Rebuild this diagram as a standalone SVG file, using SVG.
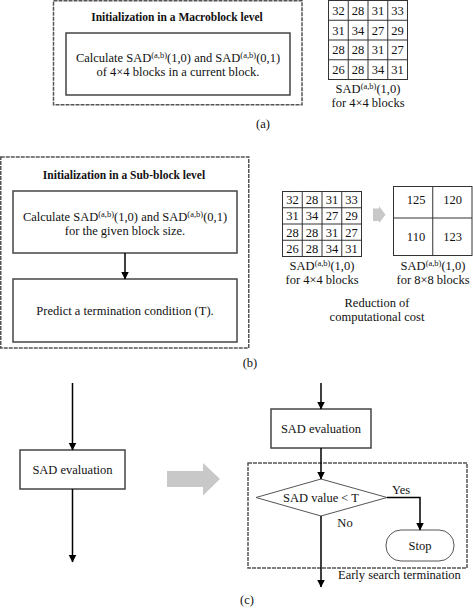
<svg xmlns="http://www.w3.org/2000/svg" width="473" height="612" viewBox="0 0 473 612" font-family="'Liberation Serif', 'Times New Roman', 'DejaVu Serif', serif">
<defs>
<marker id="ah" markerUnits="userSpaceOnUse" markerWidth="8" markerHeight="9" refX="7.5" refY="4" orient="auto">
<path d="M0,0 L8,4 L0,8 Z" fill="#000"/>
</marker>
<style>
text{font-family:'Liberation Serif','Times New Roman','DejaVu Serif',serif;font-size:12.5px;fill:#111;}
.t{text-anchor:middle;}
.b{font-weight:bold;font-size:11.5px;}
.sup{font-size:8.5px;}
.dash{fill:none;stroke:#555;stroke-width:1.5;stroke-dasharray:4 1;}
.box{fill:#fff;stroke:#444;stroke-width:1.5;}
.thin{fill:#fff;stroke:#555;stroke-width:1;}
.grid{fill:none;stroke:#333;stroke-width:1;}
.ln{fill:none;stroke:#000;stroke-width:1.5;}
.grey{fill:#c8c8c8;stroke:none;}
</style>
</defs>

<!-- Panel (a) -->
<g id="a-frame"><rect class="dash" x="53.5" y="0.75" width="248.5" height="104"/></g>
<g id="a-title"><text class="t b" x="177" y="21">Initialization in a Macroblock level</text></g>
<g id="a-calc">
<rect class="box" x="66" y="33" width="224" height="62"/>
<text class="t" x="178" y="62">Calculate SAD<tspan class="sup" dy="-4.5">(a,b)</tspan><tspan dy="4.5">(1,0) and SAD</tspan><tspan class="sup" dy="-4.5">(a,b)</tspan><tspan dy="4.5">(0,1)</tspan></text>
<text class="t" x="178" y="76">of 4×4 blocks in a current block.</text>
</g>
<g id="a-grid">
<rect class="grid" x="328.5" y="0.5" width="79" height="79"/>
<path class="grid" d="M348.25,0.5V79.5M368,0.5V79.5M387.75,0.5V79.5M328.5,20.25H407.5M328.5,40H407.5M328.5,59.75H407.5"/>
<text class="t" x="338.4" y="15">32</text><text class="t" x="358.1" y="15">28</text><text class="t" x="377.9" y="15">31</text><text class="t" x="397.6" y="15">33</text>
<text class="t" x="338.4" y="34.5">31</text><text class="t" x="358.1" y="34.5">34</text><text class="t" x="377.9" y="34.5">27</text><text class="t" x="397.6" y="34.5">29</text>
<text class="t" x="338.4" y="54.3">28</text><text class="t" x="358.1" y="54.3">28</text><text class="t" x="377.9" y="54.3">31</text><text class="t" x="397.6" y="54.3">27</text>
<text class="t" x="338.4" y="74">26</text><text class="t" x="358.1" y="74">28</text><text class="t" x="377.9" y="74">34</text><text class="t" x="397.6" y="74">31</text>
<text class="t" x="368" y="93">SAD<tspan class="sup" dy="-4.5">(a,b)</tspan><tspan dy="4.5">(1,0)</tspan></text>
<text class="t" x="368" y="107">for 4×4 blocks</text>
</g>
<text class="t" x="263" y="128">(a)</text>

<!-- Panel (b) -->
<g id="b-frame"><rect class="dash" x="0.75" y="157" width="248" height="191"/></g>
<g id="b-title"><text class="t b" x="124" y="179">Initialization in a Sub-block level</text></g>
<g id="b-calc">
<rect class="box" x="13" y="191" width="224" height="62"/>
<text class="t" x="125" y="221">Calculate SAD<tspan class="sup" dy="-4.5">(a,b)</tspan><tspan dy="4.5">(1,0) and SAD</tspan><tspan class="sup" dy="-4.5">(a,b)</tspan><tspan dy="4.5">(0,1)</tspan></text>
<text class="t" x="125" y="235">for the given block size.</text>
</g>
<g id="b-predict">
<rect class="box" x="13" y="279" width="224" height="63"/>
<text class="t" x="125" y="315">Predict a termination condition (T).</text>
</g>
<g id="b-grid4">
<rect class="grid" x="282.5" y="191.5" width="79" height="65"/>
<path class="grid" d="M302.25,191.5V256.5M322,191.5V256.5M341.75,191.5V256.5M282.5,207.75H361.5M282.5,224H361.5M282.5,240.25H361.5"/>
<text class="t" x="292.4" y="204">32</text><text class="t" x="312.1" y="204">28</text><text class="t" x="331.9" y="204">31</text><text class="t" x="351.6" y="204">33</text>
<text class="t" x="292.4" y="220.3">31</text><text class="t" x="312.1" y="220.3">34</text><text class="t" x="331.9" y="220.3">27</text><text class="t" x="351.6" y="220.3">29</text>
<text class="t" x="292.4" y="236.5">28</text><text class="t" x="312.1" y="236.5">28</text><text class="t" x="331.9" y="236.5">31</text><text class="t" x="351.6" y="236.5">27</text>
<text class="t" x="292.4" y="252.8">26</text><text class="t" x="312.1" y="252.8">28</text><text class="t" x="331.9" y="252.8">34</text><text class="t" x="351.6" y="252.8">31</text>
<text class="t" x="322" y="270">SAD<tspan class="sup" dy="-4.5">(a,b)</tspan><tspan dy="4.5">(1,0)</tspan></text>
<text class="t" x="322" y="284">for 4×4 blocks</text>
</g>
<g id="b-arrow"><path class="grey" d="M373,208.5H379V206L385.5,214.7L379,223.3V221H373Z"/></g>
<g id="b-grid8">
<rect class="grid" x="393.5" y="186.5" width="78.5" height="69"/>
<path class="grid" d="M432.75,186.5V255.5M393.5,218H472"/>
<text class="t" x="416" y="204">125</text><text class="t" x="452.5" y="204">120</text>
<text class="t" x="416" y="241">110</text><text class="t" x="452.5" y="241">123</text>
<text class="t" x="433" y="270">SAD<tspan class="sup" dy="-4.5">(a,b)</tspan><tspan dy="4.5">(1,0)</tspan></text>
<text class="t" x="433" y="284">for 8×8 blocks</text>
</g>
<g id="b-note">
<text class="t" x="377" y="307">Reduction of</text>
<text class="t" x="377" y="321">computational cost</text>
</g>
<text class="t" x="250" y="367">(b)</text>

<!-- Panel (c) -->
<g id="c-left-eval">
<rect class="box" x="20" y="450" width="105" height="39"/>
<text class="t" x="72.5" y="474">SAD evaluation</text>
</g>
<g id="c-big-arrow"><path class="grey" d="M167,471H203V463L220,479L203,495.5V487H167Z"/></g>
<g id="c-frame"><rect class="dash" x="248" y="463" width="219" height="105"/></g>
<g id="c-right-eval">
<rect class="box" x="271" y="409" width="100" height="39"/>
<text class="t" x="321" y="433">SAD evaluation</text>
</g>
<g id="c-decision">
<polygon class="thin" points="256,497.5 321,479 387,497.5 321,516"/>
<text class="t" x="321" y="502">SAD value &lt; T</text>
</g>
<g id="c-stop">
<rect class="thin" x="386" y="530" width="68" height="31" rx="15"/>
<text class="t" x="420" y="550">Stop</text>
</g>
<g id="connectors">
<line class="ln" x1="125" y1="253" x2="125" y2="279" marker-end="url(#ah)"/>
<line class="ln" x1="72.5" y1="383" x2="72.5" y2="450" marker-end="url(#ah)"/>
<line class="ln" x1="72.5" y1="489" x2="72.5" y2="562" marker-end="url(#ah)"/>
<line class="ln" x1="321" y1="383" x2="321" y2="409" marker-end="url(#ah)"/>
<line class="ln" x1="321" y1="448" x2="321" y2="479" marker-end="url(#ah)"/>
<path class="ln" d="M387,497.5H420V530" marker-end="url(#ah)"/>
<line class="ln" x1="321" y1="516" x2="321" y2="587" marker-end="url(#ah)"/>
</g>
<g id="c-labels">
<text class="t" x="401" y="494">Yes</text>
<text class="t" x="345" y="527">No</text>
<text x="338" y="579">Early search termination</text>
</g>
<text class="t" x="247" y="604">(c)</text>
</svg>
